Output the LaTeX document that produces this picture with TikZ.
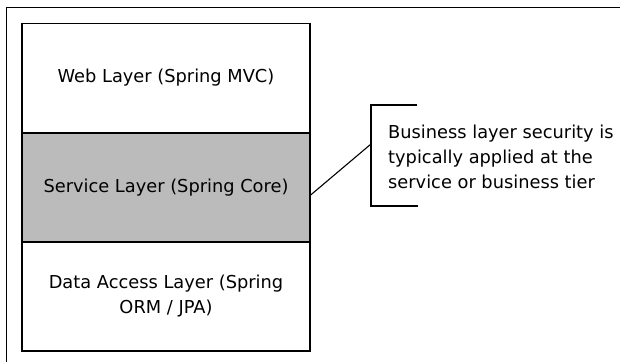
\documentclass[tikz,border=0pt]{standalone}
\usepackage{fontspec}
\setmainfont{DejaVu Sans}
\usepackage{tikz}
\definecolor{layergray}{RGB}{187,187,187}

\begin{document}
\begin{tikzpicture}[x=1pt,y=-1pt,
  layer/.style={draw=black,line width=1.3pt,minimum width=288pt,minimum height=109pt,
    inner sep=0pt,align=center,font=\fontsize{17.8}{25}\selectfont},
  frame/.style={draw=black,line width=1.2pt}]
  \useasboundingbox (0,0) rectangle (620,362);
  \draw[frame] (6.5,362) |- (620,7.5);
  \node[layer] (web) at (166,78) {Web Layer (Spring MVC)};
  \node[layer,fill=layergray] (service) at (166,187.5) {Service Layer (Spring Core)};
  \node[layer] (data) at (166,296.5) {Data Access Layer (Spring\\ORM / JPA)};
  \node[anchor=west,inner sep=0pt,align=left,font=\fontsize{17.8}{25}\selectfont] (note) at (388,157)
    {Business layer security is\\typically applied at the\\service or business tier};
  \coordinate (brktop) at (417,105);
  \coordinate (brkbot) at (418,206);
  \coordinate (brk) at (371,144);
  \draw[frame] (brktop) -| (371,206) -- (brkbot);
  \draw[line width=1.1pt] ([yshift=-7.5pt]service.east) -- (brk);
\end{tikzpicture}
\end{document}
